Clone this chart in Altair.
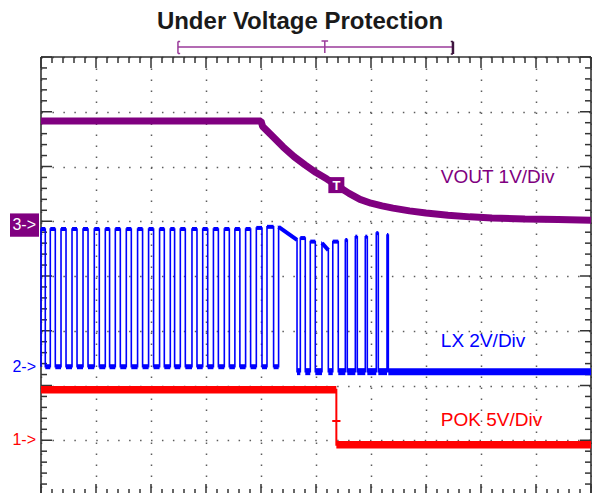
import altair as alt
import numpy as np
import pandas as pd

# ---------------- data ----------------
title_text = "Under Voltage Protection"

channels = ["VOUT", "LX", "POK"]
channel_labels = ["VOUT 1V/Div", "LX 2V/Div", "POK 5V/Div"]
channel_markers = ["3->", "2->", "1->"]
channel_ground = [4.93, 2.343, 1.0]      # ground marker, divisions from bottom
channel_scale = [1.0, 2.0, 5.0]          # volts per division
channel_colors = ["#800080", "#0000ff", "#ff0000"]

# VOUT (time in divisions, volts)
vout_t = [0.0, 4.0, 4.03, 4.2, 4.4, 4.6, 4.8, 5.0, 5.2, 5.4, 5.6, 5.8, 6.0,
          6.2, 6.4, 6.7, 7.0, 7.4, 7.8, 8.2, 8.8, 9.4, 10.0]
vout_v = [1.90, 1.90, 1.80, 1.63, 1.43, 1.25, 1.10, 0.96, 0.84, 0.71, 0.58,
          0.47, 0.40, 0.35, 0.31, 0.26, 0.22, 0.18, 0.15, 0.13, 0.11, 0.10, 0.09]

# LX switching pulses: rising / falling edge times (divisions) and high level (V)
lx_rise = [0.0, 0.169, 0.364, 0.564, 0.764, 0.969, 1.169, 1.351, 1.551, 1.756,
           1.956, 2.156, 2.351, 2.533, 2.745, 2.940, 3.135, 3.333, 3.525, 3.720,
           3.915, 4.109, 4.320, 4.715, 4.896, 5.109, 5.305, 5.533, 5.715, 5.896,
           6.096, 6.291]
lx_fall = [0.078, 0.260, 0.455, 0.655, 0.855, 1.060, 1.247, 1.442, 1.642, 1.847,
           2.047, 2.242, 2.429, 2.624, 2.836, 3.031, 3.225, 3.424, 3.616, 3.811,
           4.018, 4.229, 4.655, 4.805, 4.987, 5.224, 5.405, 5.569, 5.751, 5.933,
           6.133, 6.315]
lx_top_start = [5.03, 5.03, 5.03, 5.03, 5.03, 5.03, 5.03, 5.03, 5.03, 5.03,
                5.03, 5.03, 5.03, 5.03, 5.03, 5.03, 5.03, 5.03, 5.03, 5.03,
                5.07, 5.11, 5.11, 4.70, 4.57, 4.52, 4.57, 4.63, 4.75, 4.75,
                4.88, 4.81]
lx_top_end = [5.03, 5.03, 5.03, 5.03, 5.03, 5.03, 5.03, 5.03, 5.03, 5.03,
              5.03, 5.03, 5.03, 5.03, 5.03, 5.03, 5.03, 5.03, 5.03, 5.03,
              5.07, 5.11, 4.63, 4.70, 4.57, 4.26, 4.57, 4.63, 4.75, 4.75,
              4.88, 4.81]
lx_low_early = 0.0
lx_low_late = -0.18
lx_low_change = 4.5

# POK
pok_t = [0.0, 5.37, 5.37, 10.0]
pok_v = [4.61, 4.61, -0.41, -0.41]
pok_trigger_level = 1.76

trigger_time = 5.37
vout_trigger_v = 0.73

window_start, window_end, window_trigger = 2.49, 7.49, 5.16

label_x = [7.27, 7.27, 7.27]
label_y = [5.69, 2.71, 1.26]

# ---------------- layout ----------------
W, H = 550, 438
Y_LOW = 8 - H / 54.75      # 54.75 px per vertical division

def to_div(v, k):
    return channel_ground[k] + v / channel_scale[k]

xs = alt.Scale(domain=[0, 10], nice=False, zero=False)
ys = alt.Scale(domain=[Y_LOW, 8], nice=False, zero=False)
AX = alt.Axis(values=list(range(11)), grid=True, gridDash=[1.5, 9.5],
              gridColor="#5c5c5c", gridWidth=1.5, domain=False, ticks=False,
              labels=False, title=None)
AY = alt.Axis(values=list(range(1, 9)), grid=True, gridDash=[1.5, 9.45],
              gridColor="#5c5c5c", gridWidth=1.5, domain=False, ticks=False,
              labels=False, title=None)
PURPLE, BLUE, RED = channel_colors

def X(f):
    return alt.X(f, type="quantitative", scale=xs, axis=AX)

def Y(f):
    return alt.Y(f, type="quantitative", scale=ys, axis=AY)

layers = []
one = pd.DataFrame({"k": [0]})
FRAME = "#333333"

# frame
layers.append(alt.Chart(one).mark_rule(color=FRAME, strokeWidth=1.6).encode(
    x=alt.value(0), x2=alt.value(W), y=alt.value(0)))
layers.append(alt.Chart(one).mark_rule(color=FRAME, strokeWidth=1.6).encode(
    x=alt.value(0), x2=alt.value(W), y=alt.value(H)))
layers.append(alt.Chart(one).mark_rule(color=FRAME, strokeWidth=1.6).encode(
    x=alt.value(0), y=alt.value(0), y2=alt.value(H)))
layers.append(alt.Chart(one).mark_rule(color=FRAME, strokeWidth=1.6).encode(
    x=alt.value(W), y=alt.value(0), y2=alt.value(H)))

# border ticks
x_major = list(range(11))
x_minor = [v for v in np.round(np.arange(0, 10.001, 0.2), 1) if abs(v - round(v)) > 1e-6]
y_major = list(range(1, 9))
y_minor = [v for v in np.round(np.arange(0.2, 8.001, 0.2), 1) if abs(v - round(v)) > 1e-6]
for vals, ln in ((x_minor, 6), (x_major, 11)):
    d = pd.DataFrame({"v": vals})
    layers.append(alt.Chart(d).mark_rule(color=FRAME, strokeWidth=1.5).encode(
        x=X("v"), y=alt.value(0), y2=alt.value(ln)))
    layers.append(alt.Chart(d).mark_rule(color=FRAME, strokeWidth=1.5).encode(
        x=X("v"), y=alt.value(H), y2=alt.value(H - ln)))
for vals, ln in ((y_minor, 6), (y_major, 11)):
    d = pd.DataFrame({"v": vals})
    layers.append(alt.Chart(d).mark_rule(color=FRAME, strokeWidth=1.5).encode(
        y=Y("v"), x=alt.value(0), x2=alt.value(ln)))
    layers.append(alt.Chart(d).mark_rule(color=FRAME, strokeWidth=1.5).encode(
        y=Y("v"), x=alt.value(W), x2=alt.value(W - ln)))

# POK
pok_df = pd.DataFrame({"t": pok_t, "y": [to_div(v, 2) for v in pok_v],
                       "i": range(len(pok_t))})
layers.append(alt.Chart(pok_df).mark_line(color=RED, strokeWidth=2).encode(
    x=X("t"), y=Y("y"), order="i:Q"))
pok_seg = pd.DataFrame({"a": [pok_t[0], pok_t[2]], "b": [pok_t[1], pok_t[3]],
                        "y": [to_div(pok_v[0], 2), to_div(pok_v[2], 2)]})
layers.append(alt.Chart(pok_seg).mark_rule(color=RED, strokeWidth=7.5).encode(
    x=X("a"), x2="b", y=Y("y")))
trig_df = pd.DataFrame({"a": [trigger_time - 0.075], "b": [trigger_time + 0.075],
                        "y": [to_div(pok_trigger_level, 2)]})
layers.append(alt.Chart(trig_df).mark_rule(color=RED, strokeWidth=2).encode(
    x=X("a"), x2="b", y=Y("y")))

# LX
n = len(lx_rise)
pts_t, pts_v = [], []
top_rows, low_rows = [], []
for i in range(n):
    r, f = lx_rise[i], lx_fall[i]
    lo_b = lx_low_early if r < lx_low_change else lx_low_late
    nxt = lx_rise[i + 1] if i + 1 < n else 10.0
    late = not (i + 1 < n and nxt < lx_low_change)
    lo_a = lx_low_late if late else lx_low_early
    pts_t += [r, r, f, f]
    pts_v += [lo_b, lx_top_start[i], lx_top_end[i], lo_a]
    top_rows.append((r, f, to_div(lx_top_start[i], 1), to_div(lx_top_end[i], 1)))
    low_rows.append((f, nxt, to_div(lo_a, 1), to_div(lo_a, 1), late))
pts_t.append(10.0)
pts_v.append(lx_low_late)
lx_df = pd.DataFrame({"t": pts_t, "y": [to_div(v, 1) for v in pts_v],
                      "i": range(len(pts_t))})
layers.append(alt.Chart(lx_df).mark_line(color=BLUE, strokeWidth=1.6).encode(
    x=X("t"), y=Y("y"), order="i:Q"))
top_df = pd.DataFrame(top_rows, columns=["a", "b", "y", "y2"])
low_df = pd.DataFrame(low_rows, columns=["a", "b", "y", "y2", "late"])
layers.append(alt.Chart(top_df).mark_rule(color=BLUE, strokeWidth=4).encode(
    x=X("a"), x2="b", y=Y("y"), y2="y2"))
layers.append(alt.Chart(low_df[~low_df.late]).mark_rule(color=BLUE, strokeWidth=5).encode(
    x=X("a"), x2="b", y=Y("y"), y2="y2"))
layers.append(alt.Chart(low_df[low_df.late]).mark_rule(color=BLUE, strokeWidth=7).encode(
    x=X("a"), x2="b", y=Y("y"), y2="y2"))

# VOUT
vout_df = pd.DataFrame({"t": vout_t, "y": [to_div(v, 0) for v in vout_v]})
layers.append(alt.Chart(vout_df).mark_line(color=PURPLE, strokeWidth=7,
                                           strokeJoin="bevel").encode(
    x=X("t"), y=Y("y")))
tbox = pd.DataFrame({"t": [trigger_time], "y": [to_div(vout_trigger_v, 0)], "s": ["T"]})
layers.append(alt.Chart(tbox).mark_square(color=PURPLE, size=256, opacity=1).encode(
    x=X("t"), y=Y("y")))
layers.append(alt.Chart(tbox).mark_text(color="white", fontSize=13, fontWeight="bold",
                                        font="Liberation Sans", baseline="middle",
                                        dy=1).encode(
    x=X("t"), y=Y("y"), text="s:N"))

# channel labels
lab_df = pd.DataFrame({"ch": channels, "label": channel_labels,
                       "x": label_x, "y": label_y})
cscale = alt.Scale(domain=channels, range=channel_colors)
layers.append(alt.Chart(lab_df).mark_text(align="left", baseline="alphabetic",
                                          fontSize=19, font="Liberation Sans").encode(
    x=X("x"), y=Y("y"), text="label:N",
    color=alt.Color("ch:N", scale=cscale, legend=None)))

# ground markers
mk_df = pd.DataFrame({"ch": channels, "m": channel_markers, "g": channel_ground})
box_half = 0.213
layers.append(alt.Chart(mk_df[mk_df.ch == "VOUT"]).transform_calculate(
    top=f"datum.g + {box_half}", bot=f"datum.g - {box_half}").mark_rect(
    color=PURPLE).encode(x=alt.value(-31), x2=alt.value(-2), y=Y("top:Q"), y2="bot:Q"))
layers.append(alt.Chart(mk_df[mk_df.ch == "VOUT"]).mark_text(
    align="right", baseline="middle", fontSize=16, font="Liberation Sans",
    color="white").encode(x=alt.value(-5), y=Y("g"), text="m:N"))
layers.append(alt.Chart(mk_df[mk_df.ch != "VOUT"]).mark_text(
    align="right", baseline="middle", fontSize=16, font="Liberation Sans").encode(
    x=alt.value(-5), y=Y("g"), text="m:N",
    color=alt.Color("ch:N", scale=cscale, legend=None)))

# acquisition window bracket above the grid
BR = "#9a3a9a"
BRD = "#3d143d"
def hseg(a, b, yv, color, w):
    d = pd.DataFrame({"a": [a], "b": [b]})
    return alt.Chart(d).mark_rule(color=color, strokeWidth=w).encode(
        x=X("a"), x2="b", y=alt.value(yv))
def vseg(a, y1, y2, color, w):
    d = pd.DataFrame({"a": [a]})
    return alt.Chart(d).mark_rule(color=color, strokeWidth=w).encode(
        x=X("a"), y=alt.value(y1), y2=alt.value(y2))

layers += [
    hseg(window_start, window_end, -10, BR, 1.5),
    vseg(window_start, -15.5, -3.5, BR, 1.5),
    hseg(window_start, window_start + 0.04, -15.5, BR, 1.5),
    hseg(window_start, window_start + 0.04, -3.5, BR, 1.5),
    vseg(window_end, -15.5, -3, BRD, 2.5),
    hseg(window_end - 0.04, window_end, -15.5, BRD, 1.5),
    hseg(window_end - 0.04, window_end, -3, BRD, 1.5),
    vseg(window_trigger, -16, -4, BR, 1.5),
    hseg(window_trigger - 0.06, window_trigger + 0.06, -16, BR, 1.5),
]

chart = alt.layer(*layers).properties(
    width=W,
    height=H,
    title=alt.TitleParams(text=title_text, fontSize=24, font="Liberation Sans",
                          fontWeight="bold", color="#1a1a1a", anchor="middle",
                          frame="group", dx=-16, offset=6),
    padding={"left": 33, "top": 49, "right": 1, "bottom": 0},
    autosize=alt.AutoSizeParams(type="none"),
).configure_view(strokeWidth=0)

chart.save("out.html", embed_options={"renderer": "svg", "actions": False})
